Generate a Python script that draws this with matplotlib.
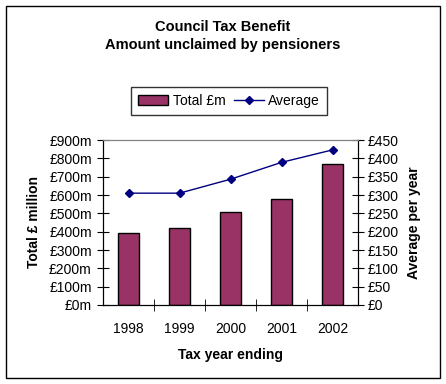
import numpy as np
import matplotlib
matplotlib.use('Agg')
import matplotlib.pyplot as plt
from matplotlib.patches import Rectangle
from matplotlib.lines import Line2D

plt.rcParams['font.family'] = ['Liberation Sans', 'DejaVu Sans']

years = ['1998', '1999', '2000', '2001', '2002']
total = [391, 418, 506, 576, 767]      # £m
average = [305, 305, 343, 389, 423]    # £ per year

left_ticks = np.arange(0, 901, 100)
right_ticks = np.arange(0, 451, 50)

fig = plt.figure(figsize=(4.46, 3.84), dpi=100)
fig.patch.set_facecolor('white')
# outer chart border
fig.add_artist(Rectangle((6 / 446, 6 / 384), 434 / 446, 372 / 384,
                         transform=fig.transFigure, fill=False,
                         edgecolor='black', linewidth=1))

ax = fig.add_axes([103 / 446, 1 - 305 / 384, 255 / 446, 165 / 384])
x = np.arange(len(years))
ax.bar(x, total, width=0.4, color='#993366', edgecolor='black',
       linewidth=1, zorder=2)
ax.set_xlim(-0.5, len(years) - 0.5)
ax.set_ylim(0, 900)
ax.set_yticks(left_ticks)
ax.set_yticklabels(['£%dm' % v for v in left_ticks], fontsize=10)
ax.set_xticks(x)
ax.set_xticklabels(years, fontsize=10)
ax.set_xticks(np.arange(0.5, len(years) - 1, 1), minor=True)
ax.tick_params(axis='x', which='major', length=0, pad=12)
ax.tick_params(axis='x', which='minor', direction='inout', length=8)
ax.tick_params(axis='y', direction='inout', length=8, pad=4)
ax.spines['top'].set_color('#808080')
ax.set_ylabel('Total £ million', fontsize=10, fontweight='bold', labelpad=6)
ax.set_xlabel('Tax year ending', fontsize=10, fontweight='bold', labelpad=9)

ax2 = ax.twinx()
ax2.plot(x, average, color='#000080', marker='D', markersize=4.5,
         linewidth=1, zorder=3)
ax2.set_ylim(0, 450)
ax2.set_yticks(right_ticks)
ax2.set_yticklabels(['£%d' % v for v in right_ticks], fontsize=10)
ax2.tick_params(axis='y', direction='inout', length=8, pad=3)
ax2.spines['top'].set_color('#808080')
ax2.set_ylabel('Average per year', fontsize=10, fontweight='bold', labelpad=6)

fig.text(0.5, 1 - 27 / 384, 'Council Tax Benefit', ha='center', va='center',
         fontsize=10.5, fontweight='bold')
fig.text(0.5, 1 - 45 / 384, 'Amount unclaimed by pensioners', ha='center',
         va='center', fontsize=10.5, fontweight='bold')

handles = [Rectangle((0, 0), 1, 1, facecolor='#993366', edgecolor='black'),
           Line2D([], [], color='#000080', marker='D', markersize=4, linewidth=1)]
leg = fig.legend(handles, ['Total £m', 'Average'], loc='center',
                 bbox_to_anchor=(229 / 446, 1 - 101 / 384), ncol=2,
                 fontsize=10, frameon=True, fancybox=False, edgecolor='black',
                 handlelength=2.2, handletextpad=0.3, columnspacing=0.6,
                 borderpad=0.5, borderaxespad=0)
leg.get_frame().set_linewidth(1)

fig.savefig('out.png', dpi=100, facecolor='white')
